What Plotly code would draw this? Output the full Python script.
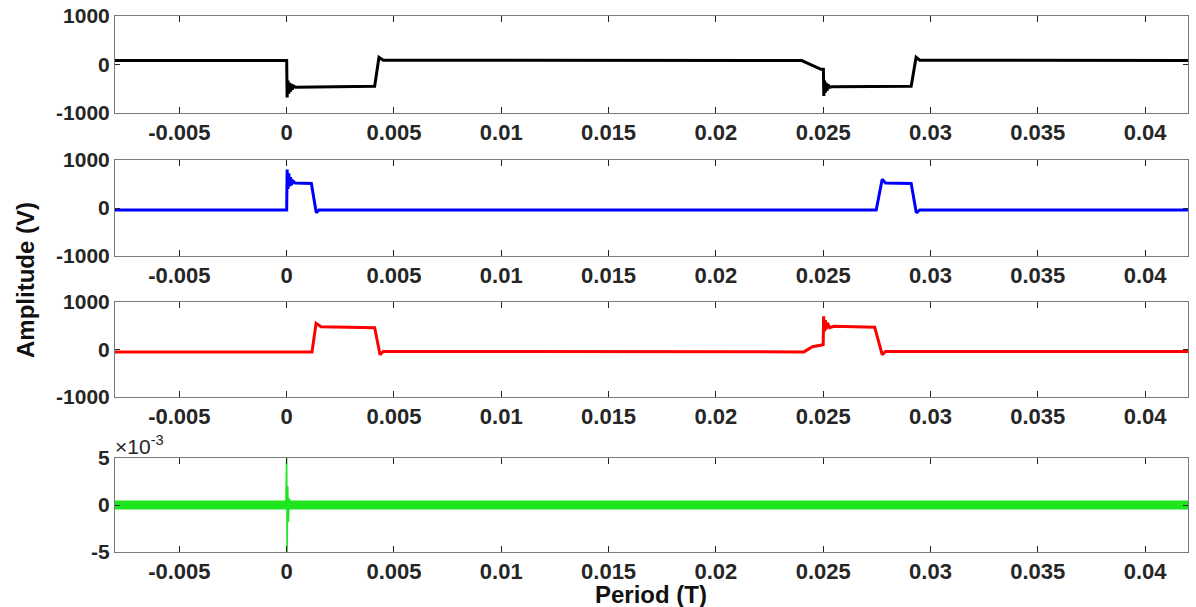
import plotly.graph_objects as go

# ---------------- data ----------------
x_tick_vals = [-0.005, 0, 0.005, 0.01, 0.015, 0.02, 0.025, 0.03, 0.035, 0.04]
x_tick_text = ["-0.005", "0", "0.005", "0.01", "0.015", "0.02", "0.025", "0.03", "0.035", "0.04"]
v_tick_vals = [-1000, 0, 1000]
v_tick_text = ["-1000", "0", "1000"]
g_tick_vals = [-0.005, 0, 0.005]
g_tick_text = ["-5", "0", "5"]

t_black = [-0.008, -0.00002, 0.0, 0.00002, 0.00006, 0.0001, 0.00014, 0.00018, 0.00022, 0.00026,
           0.0003, 0.0004, 0.0041, 0.0043, 0.0045, 0.024, 0.0245, 0.0249, 0.02501, 0.02503,
           0.02507, 0.0251, 0.02514, 0.02518, 0.02522, 0.0253, 0.0254, 0.0291, 0.02933, 0.0295, 0.042]
v_black = [80, 80, 80, -680, -330, -600, -380, -560, -400, -520,
           -430, -470, -450, 150, 90, 80, -20, -100, -100, -650,
           -330, -580, -380, -540, -410, -470, -460, -450, 150, 90, 80]

t_blue = [-0.008, -0.00002, 0.0, 0.00002, 0.00006, 0.0001, 0.00014, 0.00018, 0.00022, 0.0003,
          0.0004, 0.00115, 0.00138, 0.0015, 0.02747, 0.02775, 0.0279, 0.0291, 0.02934, 0.0295, 0.042]
v_blue = [-40, -40, -40, 800, 400, 720, 450, 640, 480, 560,
          520, 510, -100, -40, -40, 600, 520, 510, -100, -40, -40]

t_red = [-0.008, 0.00118, 0.00137, 0.0016, 0.0041, 0.00435, 0.0045, 0.0241, 0.0245, 0.0249,
         0.025, 0.02502, 0.02506, 0.0251, 0.02514, 0.0252, 0.0253, 0.0255, 0.0274, 0.02775, 0.0279, 0.042]
v_red = [-50, -50, 550, 480, 460, -110, -40, -50, 60, 100,
         100, 700, 380, 620, 420, 560, 460, 490, 470, -110, -40, -40]

t_green = [-0.008, 0.042]
v_green = [0.0, 0.0]
t_green_spike = [-0.00004, 0.0, 0.00002, 0.00005, 0.00008, 0.00012, 0.0002]
v_green_spike = [0.0, 0.0051, -0.0051, 0.002, -0.0018, 0.0007, 0.0]

# ---------------- figure ----------------
W, H = 1196, 607
plot_left, plot_right, plot_top, plot_bot = 115, 1188, 16, 552   # window pixels
ml, mr, mt, mb = plot_left, W - plot_right, plot_top, H - plot_bot
pw = plot_right - plot_left
ph = plot_bot - plot_top

def yfrac(px):
    return (plot_bot - px) / ph

def xfrac(px):
    return (px - plot_left) / pw

domains = [[yfrac(113), yfrac(16)], [yfrac(256), yfrac(160)],
           [yfrac(397), yfrac(302)], [yfrac(552), yfrac(458)]]

fig = go.Figure()
series = [
    (t_black, v_black, "black", 3),
    (t_blue, v_blue, "#0000ff", 3),
    (t_red, v_red, "#ff0000", 3),
]
for i, (t, v, c, w) in enumerate(series):
    fig.add_trace(go.Scatter(x=t, y=v, mode="lines", line=dict(color=c, width=w),
                             xaxis=f"x{i+1}" if i else "x", yaxis=f"y{i+1}" if i else "y",
                             showlegend=False))
fig.add_trace(go.Scatter(x=t_green, y=v_green, mode="lines", line=dict(color="#1ee61e", width=9),
                         xaxis="x4", yaxis="y4", showlegend=False))
fig.add_trace(go.Scatter(x=t_green_spike, y=v_green_spike, mode="lines",
                         line=dict(color="#1ee61e", width=1.5),
                         xaxis="x4", yaxis="y4", showlegend=False))

xtickfont = dict(family="Liberation Sans", size=22, color="#262626")
ytickfont = dict(family="Liberation Sans", size=21, color="#262626")
axis_common = dict(showline=True, mirror="ticks", linecolor="#7a7a7a", linewidth=1,
                   ticks="inside", tickcolor="#262626", showgrid=False, zeroline=False,
                   automargin=False, ticklabeloverflow="allow")

layout = dict(width=W, height=H, plot_bgcolor="white", paper_bgcolor="white",
              margin=dict(l=ml, r=mr, t=mt, b=mb), showlegend=False)
for i in range(4):
    xs = "xaxis" if i == 0 else f"xaxis{i+1}"
    ys = "yaxis" if i == 0 else f"yaxis{i+1}"
    xa = "x" if i == 0 else f"x{i+1}"
    ya = "y" if i == 0 else f"y{i+1}"
    layout[xs] = dict(axis_common, domain=[0, 1], anchor=ya, range=[-0.008, 0.042],
                      tickvals=x_tick_vals, ticktext=[f"<b>{s}</b>" for s in x_tick_text],
                      ticklen=6, tickfont=xtickfont)
    if i < 3:
        layout[ys] = dict(axis_common, domain=domains[i], anchor=xa, range=[-1000, 1000],
                          tickvals=v_tick_vals, ticktext=[f"<b>{s}</b>" for s in v_tick_text],
                          ticklen=5, tickfont=ytickfont)
    else:
        layout[ys] = dict(axis_common, domain=domains[i], anchor=xa, range=[-0.005, 0.005],
                          tickvals=g_tick_vals, ticktext=[f"<b>{s}</b>" for s in g_tick_text],
                          ticklen=5, tickfont=ytickfont)

fig.update_layout(**layout)

titlefont = dict(family="Liberation Sans", size=24, color="#111111")
fig.add_annotation(text="<b>Amplitude (V)</b>", xref="paper", yref="paper",
                   x=xfrac(25), y=yfrac(280), textangle=-90,
                   showarrow=False, font=titlefont, xanchor="center", yanchor="middle")
fig.add_annotation(text="<b>Period (T)</b>", xref="paper", yref="paper",
                   x=xfrac(651), y=yfrac(594), showarrow=False, font=titlefont,
                   xanchor="center", yanchor="middle")
fig.add_annotation(text="×10<sup>-3</sup>", xref="paper", yref="paper",
                   x=0, y=domains[3][1], showarrow=False, xanchor="left", yanchor="bottom",
                   xshift=-2, yshift=-2,
                   font=dict(family="Liberation Sans", size=21, color="#262626"))

# remove the default 8px page margin so the figure fills the window exactly
fig.write_html("out.html", config={"displayModeBar": False},
               post_script="document.body.style.margin='0';")
